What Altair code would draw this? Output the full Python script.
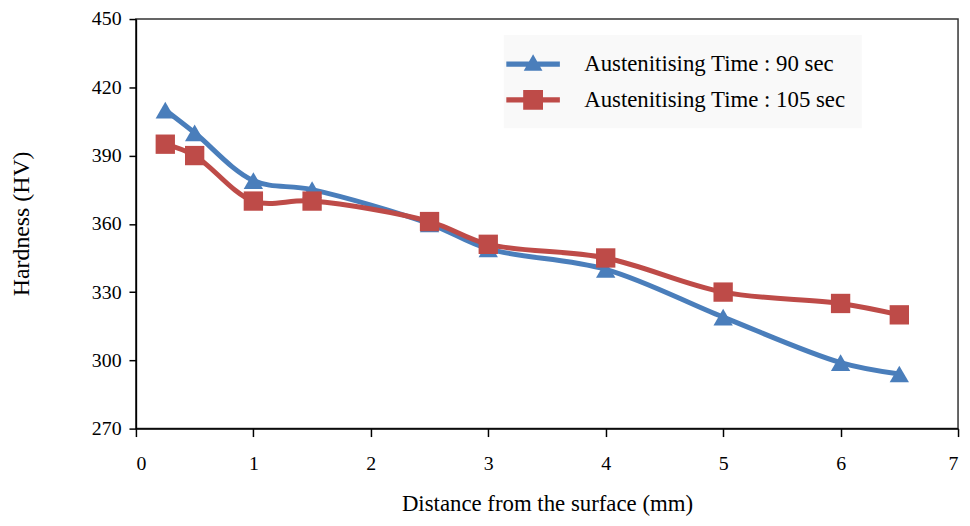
import altair as alt
import pandas as pd

distance = [0.25, 0.5, 1, 1.5, 2.5, 3, 4, 5, 6, 6.5]
hv_90 = [410, 400, 379, 375, 360, 349, 340, 319, 299, 294]
hv_105 = [395, 390, 370, 370, 361, 351, 345, 330, 325, 320]
series = ["Austenitising Time : 90 sec", "Austenitising Time : 105 sec"]
colors = ["#4a7ebb", "#be4b48"]
x_ticks = [0, 1, 2, 3, 4, 5, 6, 7]
y_ticks = [270, 300, 330, 360, 390, 420, 450]

df = pd.DataFrame({
    "distance": distance + distance,
    "hv": hv_90 + hv_105,
    "series": [series[0]] * len(distance) + [series[1]] * len(distance),
})

FONT = "Liberation Serif"

tri_path = "M-2,-0.19L2,-0.19L2,0.19L-2,0.19Z M-0.7,0.5L0,-0.75L0.7,0.5Z"
sq_path = "M-2,-0.19L2,-0.19L2,0.19L-2,0.19Z M-0.74,-0.74L0.74,-0.74L0.74,0.74L-0.74,0.74Z"

legend = alt.Legend(
    title=None,
    orient="none",
    legendX=371,
    legendY=16,
    fillColor="#f9f9f9",
    symbolSize=729,
    symbolStrokeWidth=0,
    symbolType=alt.ExprRef(expr=f"datum.value === '{series[0]}' ? '{tri_path}' : '{sq_path}'"),
    symbolFillColor=alt.ExprRef(expr=f"datum.value === '{series[0]}' ? '{colors[0]}' : '{colors[1]}'"),
    symbolOpacity=1,
    labelFontSize=23,
    labelFont=FONT,
    labelColor="black",
    labelOffset=38,
    padding=16,
    rowPadding=10,
    labelLimit=400,
)

color = alt.Color("series:N", scale=alt.Scale(domain=series, range=colors), sort=series, legend=legend)

def axis_common():
    return dict(labelFont=FONT, titleFont=FONT, labelFontSize=20, titleFontSize=23,
                labelColor="black", titleColor="black", titleFontWeight="normal",
                domainColor="black", tickColor="black", domainWidth=1.5, tickWidth=1.5,
                grid=False)

x = alt.X("distance:Q", scale=alt.Scale(domain=[0, 7], nice=False, zero=False),
          axis=alt.Axis(values=x_ticks, title="Distance from the surface (mm)", format="d",
                        tickSize=8, labelPadding=17, titleY=76, titleBaseline="middle",
                        **axis_common()))
ycommon = axis_common()
ycommon["titleFontSize"] = 24
y = alt.Y("hv:Q", scale=alt.Scale(domain=[270, 450], nice=False, zero=False),
          axis=alt.Axis(values=y_ticks, title="Hardness (HV)",
                        tickSize=7, labelPadding=8, titleX=-115, titleY=206, titleAngle=-90,
                        titleAlign="center", titleBaseline="middle", **ycommon))

base = alt.Chart(df)
lines = base.mark_line(strokeWidth=5, interpolate="catmull-rom").encode(x=x, y=y, color=color)
pts_90 = base.transform_filter(alt.datum.series == series[0]).mark_point(
    filled=True, size=380, opacity=1, shape="triangle-up").encode(x=x, y=y, color=color)
pts_105 = base.transform_filter(alt.datum.series == series[1]).mark_point(
    filled=True, size=380, opacity=1, shape="square").encode(x=x, y=y, color=color)

chart = alt.layer(lines, pts_90, pts_105).properties(
    width=829, height=413,
    background="white",
    autosize=alt.AutoSizeParams(type="none"),
    padding={"left": 129, "top": 9, "right": 4, "bottom": 88},
).configure_view(stroke="#333333", strokeWidth=1.5)

chart.save("out.html", embed_options={"renderer": "svg", "actions": False})
